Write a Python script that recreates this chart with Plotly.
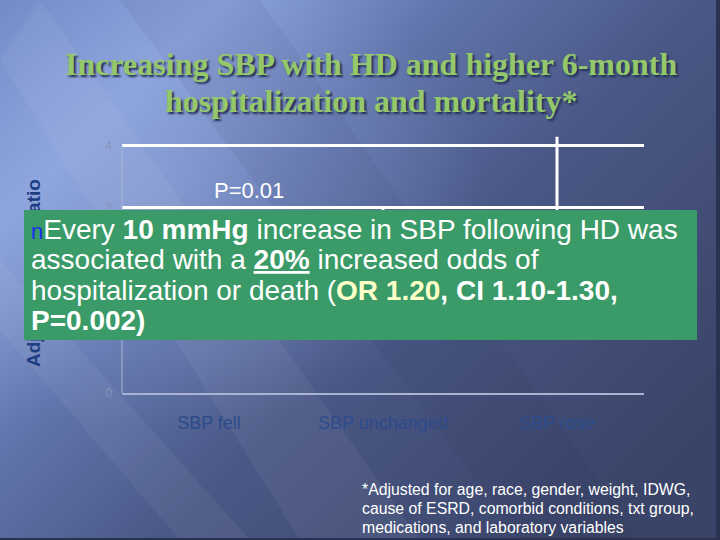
import base64
import plotly.graph_objects as go

# ---------------- data ----------------
categories = ["SBP fell", "SBP unchanged", "SBP rose"]
odds_ratio = [1.0, 1.6, 2.3]          # bars (not visible in the slide)
ci_upper = [1.0, 3.0, 4.15]
ci_lower = [1.0, 1.1, 1.4]
y_tick_values = [0, 1, 2, 3, 4]
y_tick_labels = ["0", "", "", "3", "4"]   # 1 and 2 are hidden behind the text box

title_lines = ["Increasing SBP with HD and higher 6-month",
               "hospitalization and mortality*"]
p_label = "P=0.01"
y_title = "Adjusted Odds Ratio"
box_lines = [
    "<span style='color:#1a2cf0;font-size:22px'>n</span>Every <b>10 mmHg</b> increase in SBP following HD was",
    "associated with a <b><u>20%</u></b> increased odds of",
    "hospitalization or death (<b><span style='color:#ffffc8'>OR 1.20</span>, CI 1.10-1.30,</b>",
    "<b>P=0.002)</b>",
]
foot_lines = ["*Adjusted for age, race, gender, weight, IDWG,",
              "cause of ESRD, comorbid conditions, txt group,",
              "medications, and laboratory variables"]

W, H = 720, 540          # reference pixel frame
FIG_H = 547              # figure height (screenshot maps it onto 540 rows)
SY = FIG_H / H
def px(x): return x / W
def py(y): return 1 - y / H

# ---------------- background (svg gradient) ----------------
svg = f"""<svg xmlns='http://www.w3.org/2000/svg' width='{W}' height='{H}' viewBox='0 0 {W} {H}' preserveAspectRatio='none'>
<defs>
<linearGradient id='g' x1='0' y1='0' x2='1' y2='0.75'>
<stop offset='0' stop-color='#7189c6'/>
<stop offset='0.2' stop-color='#8aa1da'/>
<stop offset='0.4' stop-color='#6175ac'/>
<stop offset='0.62' stop-color='#4a5886'/>
<stop offset='1' stop-color='#3a4468'/>
</linearGradient>
<radialGradient id='r' cx='0.22' cy='0.35' r='0.45'>
<stop offset='0' stop-color='#9ab0e6' stop-opacity='0.45'/>
<stop offset='1' stop-color='#9ab0e6' stop-opacity='0'/>
</radialGradient>
</defs>
<rect width='{W}' height='{H}' fill='url(#g)'/>
<rect width='{W}' height='{H}' fill='url(#r)'/>
<polygon points='0,60 40,0 420,540 300,540' fill='#ffffff' fill-opacity='0.05'/>
<polygon points='0,260 0,330 180,540 250,540' fill='#ffffff' fill-opacity='0.05'/>
<polygon points='120,0 260,0 640,540 520,540' fill='#1c2548' fill-opacity='0.06'/>
<rect x='716' y='0' width='4' height='{H}' fill='#2a3252'/>
<rect x='0' y='538' width='{W}' height='2' fill='#2a3252'/>
</svg>"""
bg_src = "data:image/svg+xml;base64," + base64.b64encode(svg.encode()).decode()

# ---------------- figure ----------------
fig = go.Figure()
fig.add_trace(go.Bar(
    x=categories, y=odds_ratio,
    marker=dict(color="rgba(0,0,0,0)", line=dict(width=0)),
    error_y=dict(type="data", symmetric=False,
                 array=[u - o for u, o in zip(ci_upper, odds_ratio)],
                 arrayminus=[o - l for o, l in zip(odds_ratio, ci_lower)],
                 color="white", thickness=3, width=0),
    showlegend=False, hoverinfo="skip",
))

y0_px, unit = 393, 61.75
ymax = 4.3
top_px = y0_px - ymax * unit
fig.update_layout(
    width=W, height=FIG_H,
    margin=dict(l=0, r=0, t=0, b=0),
    paper_bgcolor="#4a5886", plot_bgcolor="rgba(0,0,0,0)",
    showlegend=False,
    bargap=0.5,
    xaxis=dict(domain=[px(122), px(644)], showgrid=False, zeroline=False,
               showline=True, linecolor="#a9b4d2", linewidth=2,
               ticks="", ticklabelstandoff=12,
               tickfont=dict(family="Arial, Liberation Sans", size=18, color="#2d4b8b")),
    yaxis=dict(domain=[py(y0_px), py(top_px)], range=[0, ymax],
               tickvals=y_tick_values, ticktext=y_tick_labels,
               showgrid=True, gridcolor="white", gridwidth=2.5,
               zeroline=False, showline=False, ticks="", ticklabelstandoff=9,
               tickfont=dict(family="Arial, Liberation Sans", size=12, color="#8894ba")),
    images=[dict(source=bg_src, xref="paper", yref="paper", x=0, y=1,
                 sizex=1, sizey=1, sizing="stretch", layer="below",
                 xanchor="left", yanchor="top")],
)

# left axis line (only up to 4)
fig.add_shape(type="line", xref="x domain", yref="y", x0=0, x1=0, y0=0, y1=4,
              line=dict(color="#aab6d6", width=1))

annotations = []
# title
for txt, yc in zip(title_lines, [64, 101]):
    annotations.append(dict(text=f"<b>{txt}</b>", xref="paper", yref="paper",
                            x=px(371), y=py(yc), xanchor="center", yanchor="middle",
                            showarrow=False,
                            font=dict(family="Liberation Serif, Times New Roman", size=32,
                                      color="#94c86a", shadow="2px 2px 2px #243055")))
# p label
annotations.append(dict(text=p_label, xref="paper", yref="paper", x=px(212), y=py(191),
                        xanchor="left", yanchor="middle", showarrow=False,
                        font=dict(family="Arial, Liberation Sans", size=22, color="white")))
# y title (partly covered by the green box, as in the slide)
annotations.append(dict(text=f"<b>{y_title}</b>", xref="paper", yref="paper",
                        x=px(33), y=py(273), xanchor="center", yanchor="middle",
                        textangle=-90, showarrow=False,
                        font=dict(family="Arial, Liberation Sans", size=19, color="#1f3d82")))
# green text box (drawn as an annotation background so it covers the y title)
annotations.append(dict(text=" ", xref="paper", yref="paper",
                        x=px(24), y=py(210), xanchor="left", yanchor="top",
                        width=673, height=round(128 * SY), borderpad=0, borderwidth=0,
                        bgcolor="#3a9a68", showarrow=False,
                        font=dict(size=10, color="#3a9a68")))
# box text
for txt, yc in zip(box_lines, [229, 259, 290, 320]):
    annotations.append(dict(text=txt, xref="paper", yref="paper", x=px(29), y=py(yc),
                            xanchor="left", yanchor="middle", showarrow=False, align="left",
                            font=dict(family="Arial, Liberation Sans", size=28, color="white")))
# footnote
for txt, yc in zip(foot_lines, [489, 508, 527]):
    annotations.append(dict(text=txt, xref="paper", yref="paper", x=px(360), y=py(yc),
                            xanchor="left", yanchor="middle", showarrow=False,
                            font=dict(family="Arial, Liberation Sans", size=15.8, color="white")))
fig.update_layout(annotations=annotations)

fig.write_html("out.html", config={"displayModeBar": False},
               post_script="document.body.style.margin='0px';")
